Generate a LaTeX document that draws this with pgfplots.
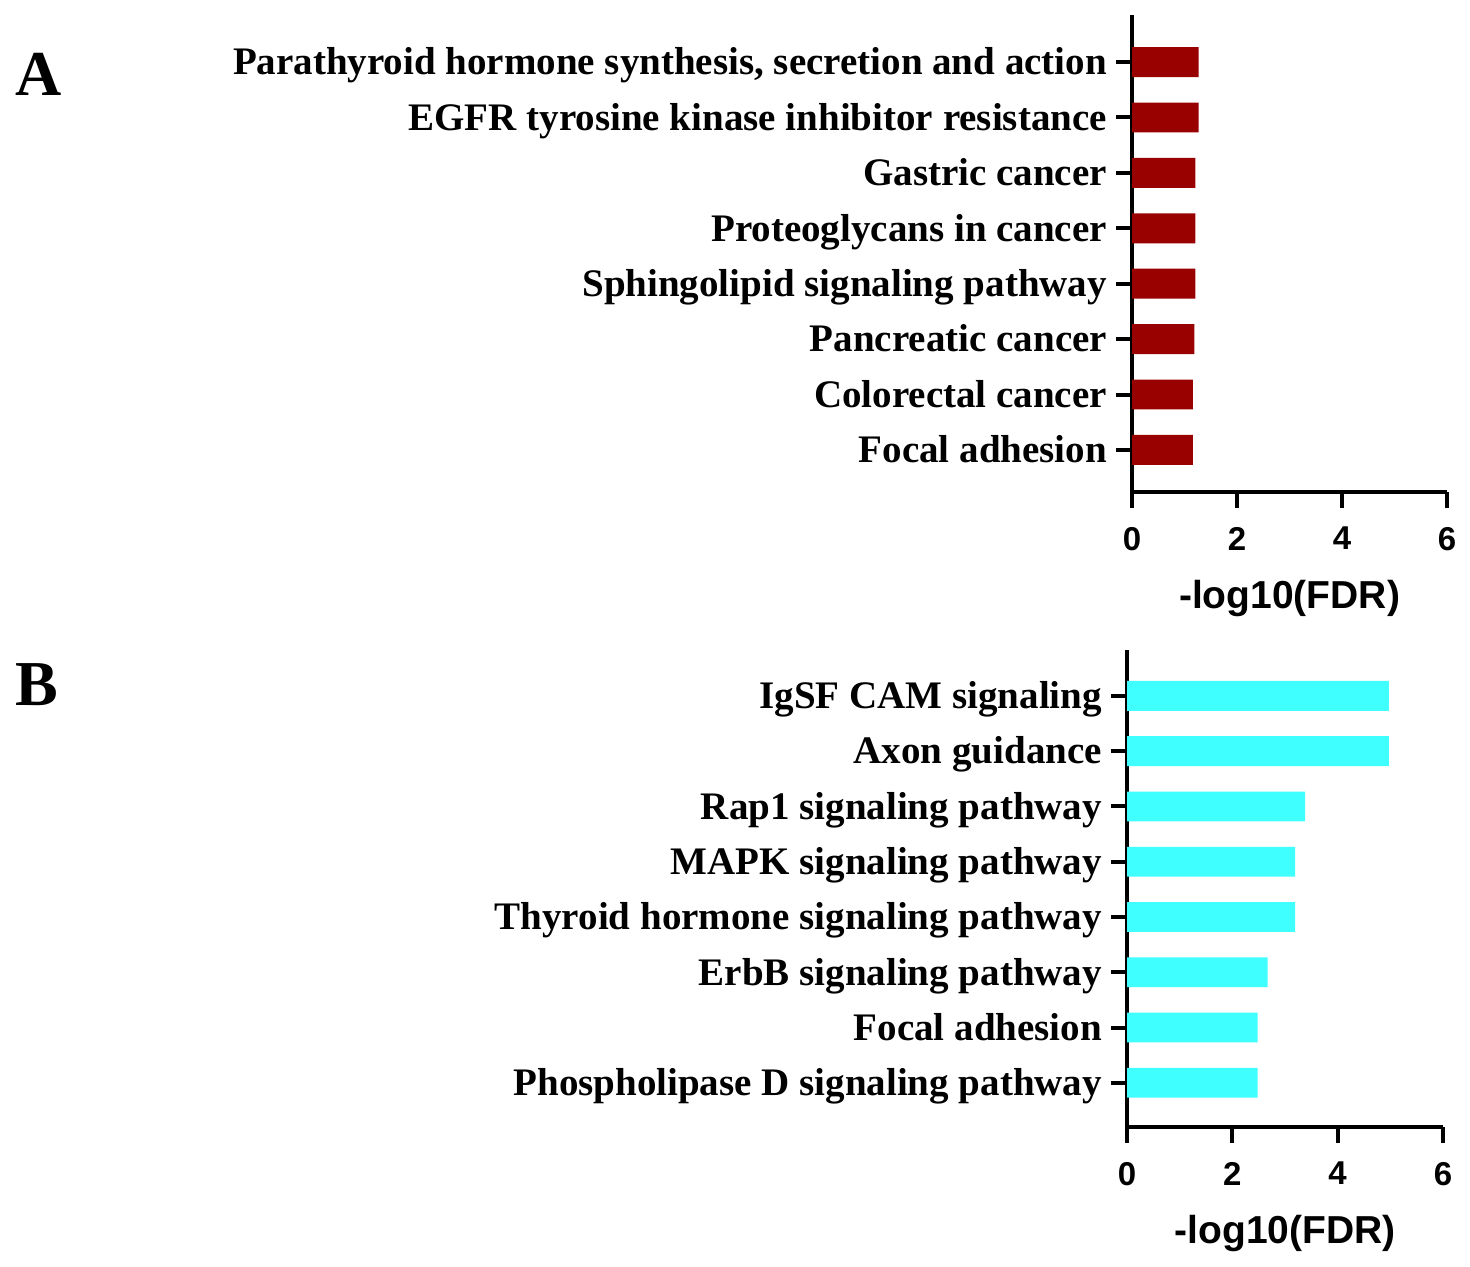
\documentclass[border=0pt]{standalone}
\usepackage{pgfplots}
\pgfplotsset{compat=1.18}
\usepackage{fontspec}
\setmainfont{Liberation Serif}
\newfontfamily\arialfont{Liberation Sans}
\definecolor{darkred}{RGB}{153,0,0}
\definecolor{cyanbar}{RGB}{64,255,255}
\pgfplotsset{
  panel/.style={
    scale only axis, anchor=south west,
    xmin=0, xmax=6,
    axis x line*=bottom, axis y line*=left,
    axis line style={line width=2pt, -},
    tick style={line width=2pt, black},
    xtick={0,2,4,6}, ytick={1,...,8},
    tick align=outside, major tick length=8pt,
    /pgf/number format/assume math mode=true,
    xticklabel style={font=\arialfont\bfseries\fontsize{16.5}{18}\selectfont, yshift=-6pt},
    yticklabel style={font=\bfseries\fontsize{19.5}{21}\selectfont, xshift=-1pt,
      text height=12.8pt, text depth=0pt},
    xlabel={-log10(FDR)},
    xlabel style={font=\arialfont\bfseries\fontsize{19.5}{21}\selectfont,
      at={(axis description cs:0.5,0)}, anchor=center, yshift=-53pt},
  }
}
\begin{document}
\begin{tikzpicture}
\path[use as bounding box] (0,0) rectangle (735pt,-633pt);
\node[anchor=base west, inner sep=0pt] at (7.5pt,-47.5pt) {\fontsize{32}{34}\selectfont\bfseries A};
\node[anchor=base west, inner sep=0pt] at (7.5pt,-352.5pt) {\fontsize{32}{34}\selectfont\bfseries B};
\begin{axis}[panel,
  at={(566pt,-246pt)}, width=157.5pt, height=238.5pt,
  ymin=0.24, ymax=8.85,
  yticklabels={Focal adhesion, Colorectal cancer, Pancreatic cancer, Sphingolipid signaling pathway, Proteoglycans in cancer, Gastric cancer, EGFR tyrosine kinase inhibitor resistance, {Parathyroid hormone synthesis, secretion and action}},
]
\addplot[xbar, bar width=0.54, fill=darkred, draw=none] coordinates {
(1.16,1) (1.16,2) (1.19,3) (1.205,4) (1.205,5) (1.205,6) (1.27,7) (1.27,8)};
\end{axis}
\begin{axis}[panel,
  at={(563.5pt,-563.5pt)}, width=158pt, height=238.5pt,
  ymin=0.2, ymax=8.83,
  yticklabels={Phospholipase D signaling pathway, Focal adhesion, ErbB signaling pathway, Thyroid hormone signaling pathway, MAPK signaling pathway, Rap1 signaling pathway, Axon guidance, IgSF CAM signaling},
]
\addplot[xbar, bar width=0.54, fill=cyanbar, draw=none] coordinates {
(2.48,1) (2.48,2) (2.67,3) (3.19,4) (3.19,5) (3.38,6) (4.97,7) (4.97,8)};
\end{axis}
\end{tikzpicture}
\end{document}
